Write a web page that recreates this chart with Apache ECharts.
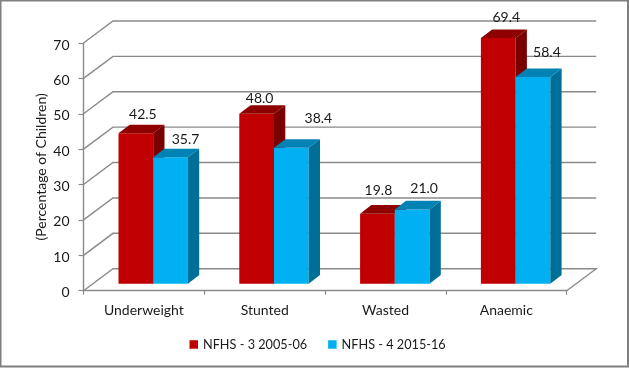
<!DOCTYPE html>
<html>
<head>
<meta charset="utf-8">
<style>html,body{margin:0;padding:0;background:#fff}#c{width:629px;height:368px}</style>
<script src="https://cdn.jsdelivr.net/npm/echarts@6/dist/echarts.min.js"></script>
</head>
<body>
<div id="c"></div>
<script>
var categories = ['Underweight', 'Stunted', 'Wasted', 'Anaemic'];
var seriesNames = ['NFHS - 3 2005-06', 'NFHS - 4 2015-16'];
var nfhs3 = [42.5, 48.0, 19.8, 69.4];
var nfhs4 = [35.7, 38.4, 21.0, 58.4];
var yTicks = [0, 10, 20, 30, 40, 50, 60, 70];
var axisTitle = '(Percentage of Children)';

// hand-placed data label nudges from the bar's front-top centre, [dx, dy] in px
var labelNudge3 = [[7, -19], [3, -15], [1, -23], [8, -21]];
var labelNudge4 = [[15, -18], [27, -29], [12, -21], [14, -25]];

var FONT = 'Lato, "Open Sans", sans-serif';
var WALL = { dx: 29.5, dy: -22 };
var BAR = { dx: 11.3, dy: -8.6, baseDx: 9.3, baseDy: -7, widthFrac: 0.2873 };
var GRID = '#8a8a8a';

function renderWall(params, api) {
  var cs = params.coordSys;
  var v = api.value(0);
  var y = api.coord([0, v])[1];
  var x0 = cs.x, x1 = cs.x + cs.width;
  var pts = [[x0, y], [x0 + WALL.dx, y + WALL.dy], [x1 + WALL.dx, y + WALL.dy]];
  if (v === 0) pts.push([x1, y]);
  return {
    type: 'polyline',
    shape: { points: pts },
    style: { stroke: GRID, lineWidth: 1.4, fill: null }
  };
}

function barRenderer(serIdx, colors, nudges) {
  return function (params, api) {
    var i = api.value(0), v = api.value(1);
    var w = api.size([1, 0])[0] * BAR.widthFrac;
    var c = api.coord([i, v]), b = api.coord([i, 0]);
    var xl = c[0] + BAR.baseDx - w + serIdx * w;
    var xr = xl + w;
    var yt = c[1] + BAR.baseDy;
    var yb = b[1] + BAR.baseDy;
    var dx = BAR.dx, dy = BAR.dy;
    var n = nudges[params.dataIndex];
    return {
      type: 'group',
      children: [
        { type: 'polygon', shape: { points: [[xl, yt], [xr, yt], [xr, yb], [xl, yb]] }, style: { fill: colors.front } },
        { type: 'polygon', shape: { points: [[xl, yt], [xl + dx, yt + dy], [xr + dx, yt + dy], [xr, yt]] }, style: { fill: colors.top } },
        { type: 'polygon', shape: { points: [[xr, yt], [xr + dx, yt + dy], [xr + dx, yb + dy], [xr, yb]] }, style: { fill: colors.side } },
        { type: 'text', z2: 50, style: { text: v.toFixed(1), x: (xl + xr) / 2 + n[0], y: yt + n[1], align: 'center', verticalAlign: 'middle', font: '14px ' + FONT, fill: '#1a1a1a' } }
      ]
    };
  };
}

var chart = echarts.init(document.getElementById('c'), null, { renderer: 'canvas', width: 629, height: 368 });
chart.setOption({
  animation: false,
  backgroundColor: '#fff',
  graphic: [{
    type: 'rect', silent: true, z: -1,
    shape: { x: 0.5, y: 0.5, width: 627.5, height: 366 },
    style: { fill: null, stroke: '#7f7f7f', lineWidth: 2 }
  }],
  grid: { left: 83.5, right: 62.3, top: 43, bottom: 77.3, containLabel: false },
  legend: {
    left: 189.5, top: 338, padding: 0, itemWidth: 8.5, itemHeight: 8.5, itemGap: 21,
    icon: 'rect', selectedMode: false,
    data: seriesNames,
    textStyle: { fontFamily: FONT, fontSize: 12.7, color: '#1a1a1a' }
  },
  xAxis: {
    type: 'category', data: categories, boundaryGap: true,
    axisLine: { lineStyle: { color: GRID, width: 1.4 } },
    axisTick: { show: true, alignWithLabel: false, length: 4, lineStyle: { color: GRID, width: 1.2 } },
    axisLabel: { fontFamily: FONT, fontSize: 14, color: '#1a1a1a', margin: 13, interval: 0 },
    splitLine: { show: false }
  },
  yAxis: {
    type: 'value', min: 0, max: 70, interval: 10,
    name: axisTitle, nameLocation: 'middle', nameGap: 35, nameRotate: 90, nameMoveOverlap: false,
    nameTextStyle: { fontFamily: FONT, fontSize: 14, color: '#1a1a1a' },
    axisLine: { show: true, lineStyle: { color: GRID, width: 1.4 } },
    axisTick: { show: true, length: 5, lineStyle: { color: GRID, width: 1.2 } },
    axisLabel: {
      margin: 14,
      formatter: '{n|{value}}',
      rich: { n: { fontFamily: FONT, fontSize: 14, color: '#1a1a1a', padding: [4, 0, 0, 0] } }
    },
    splitLine: { show: false }
  },
  tooltip: { show: false },
  series: [
    {
      type: 'custom', name: 'wall', z: 1, silent: true,
      data: yTicks.map(function (t) { return [t]; }),
      encode: { y: 0 },
      renderItem: renderWall
    },
    {
      type: 'custom', name: seriesNames[0], z: 2, silent: true,
      itemStyle: { color: '#C00000' },
      data: nfhs3.map(function (v, i) { return [i, v]; }),
      encode: { x: 0, y: 1 },
      renderItem: barRenderer(0, { front: '#C00000', top: '#8E0000', side: '#7A0000' }, labelNudge3)
    },
    {
      type: 'custom', name: seriesNames[1], z: 3, silent: true,
      itemStyle: { color: '#00B0F0' },
      data: nfhs4.map(function (v, i) { return [i, v]; }),
      encode: { x: 0, y: 1 },
      renderItem: barRenderer(1, { front: '#00B0F0', top: '#0083B4', side: '#006F98' }, labelNudge4)
    }
  ]
});
</script>
</body>
</html>
